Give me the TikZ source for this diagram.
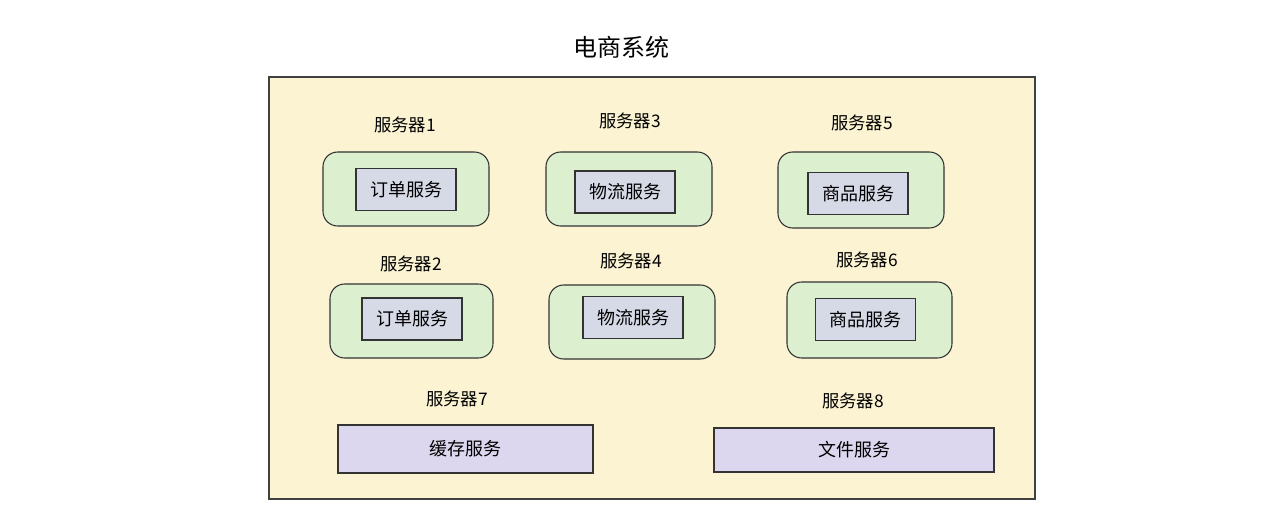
\documentclass[tikz,border=0pt]{standalone}
\usepackage{fontspec}
\setmainfont{Noto Sans CJK SC}
\definecolor{outerfill}{HTML}{FBF3D2}
\definecolor{srvfill}{HTML}{DCEFCF}
\definecolor{svcfill}{HTML}{D6D9E6}
\definecolor{widefill}{HTML}{DCD6EE}
\begin{document}
\begin{tikzpicture}[x=0.75pt,y=-0.75pt,
  outerbox/.style={draw=black!75,line width=0.9pt,fill=outerfill,minimum width=574.5pt,minimum height=316.5pt,inner sep=0},
  srvbox/.style={draw=black!80,line width=0.8pt,rounded corners=11pt,fill=srvfill,inner sep=0},
  svcbox/.style={draw=black!80,line width=0.8pt,fill=svcfill,inner sep=0,minimum width=75pt,minimum height=31.5pt,font=\fontsize{13.5}{15}\selectfont},
  widebox/.style={draw=black!80,line width=0.8pt,fill=widefill,inner sep=0,minimum height=34pt,font=\fontsize{13.5}{15}\selectfont},
  lbl/.style={font=\fontsize{13}{15}\selectfont,inner sep=0},
  ttl/.style={font=\fontsize{18}{20}\selectfont,inner sep=0}]
\useasboundingbox (0,0) rectangle (1280,531);
\fill[white] (0,0) rectangle (1280,531);
\node[ttl] (title) at (621,47) {电商系统};
\node[outerbox] (outer) at (652,288) {};
% row 1
\node[lbl] (l1) at (405,125) {服务器1};
\node[srvbox,minimum width=124.5pt,minimum height=55.5pt] (g1) at (406,189) {};
\node[svcbox] (s1) at (406,189.5) {订单服务};
\node[lbl] (l3) at (630,121) {服务器3};
\node[srvbox,minimum width=124.5pt,minimum height=55.5pt] (g3) at (629,189) {};
\node[svcbox] (s3) at (625,192) {物流服务};
\node[lbl] (l5) at (862,123) {服务器5};
\node[srvbox,minimum width=124.5pt,minimum height=57pt] (g5) at (861,190) {};
\node[svcbox] (s5) at (858,193.5) {商品服务};
% row 2
\node[lbl] (l2) at (411,264) {服务器2};
\node[srvbox,minimum width=122.25pt,minimum height=55.5pt] (g2) at (411.5,321) {};
\node[svcbox] (s2) at (412,319) {订单服务};
\node[lbl] (l4) at (631,261) {服务器4};
\node[srvbox,minimum width=124.5pt,minimum height=55.5pt] (g4) at (632,322) {};
\node[svcbox] (s4) at (633,317.5) {物流服务};
\node[lbl] (l6) at (867,260) {服务器6};
\node[srvbox,minimum width=123.75pt,minimum height=57pt] (g6) at (869.5,320) {};
\node[svcbox] (s6) at (865.5,319.5) {商品服务};
% row 3
\node[lbl] (l7) at (457,399) {服务器7};
\node[widebox,minimum width=191.25pt,minimum height=36pt] (b7) at (465.5,449) {缓存服务};
\node[lbl] (l8) at (853,401) {服务器8};
\node[widebox,minimum width=210pt,minimum height=33pt] (b8) at (854,450) {文件服务};
\end{tikzpicture}
\end{document}
